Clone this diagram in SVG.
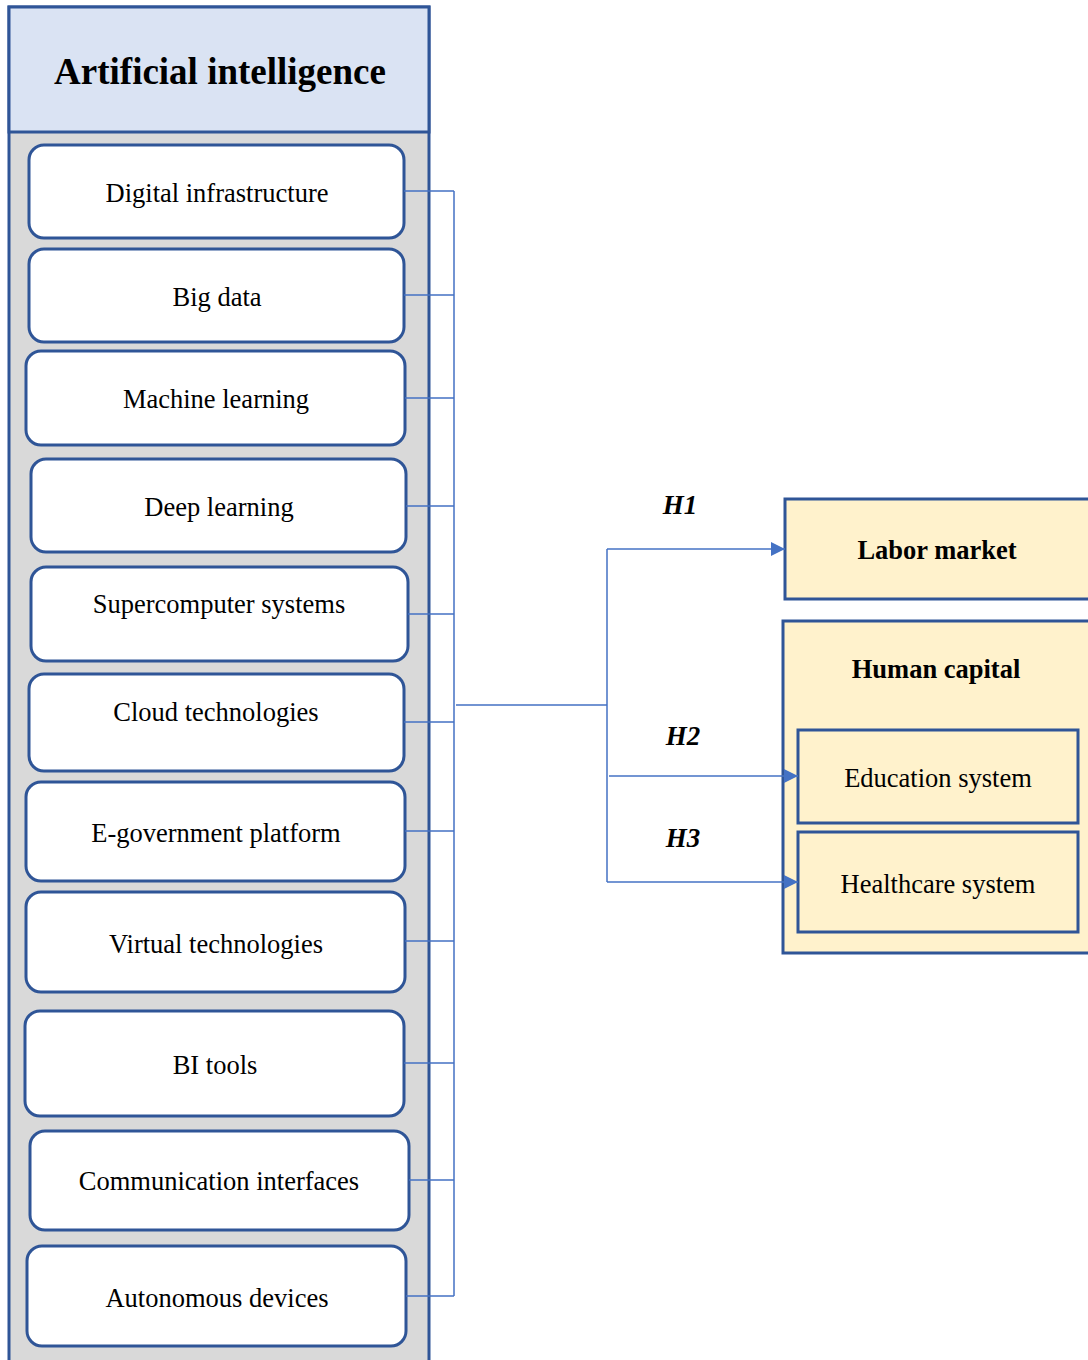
<svg xmlns="http://www.w3.org/2000/svg" width="1088" height="1360" viewBox="0 0 1088 1360">
<defs>
<style>
.box{fill:#fff;stroke:#2F5597;stroke-width:3}
.t{font-family:"Liberation Serif","Times New Roman",serif;font-size:26.5px;fill:#000;text-anchor:middle;dominant-baseline:central}
.b{font-weight:bold}
.h{font-family:"Liberation Serif","Times New Roman",serif;font-size:27px;font-weight:bold;font-style:italic;text-anchor:middle;dominant-baseline:central}
.c{fill:none;stroke:#4472C4;stroke-width:1.5}
.y{fill:#FFF2CC;stroke:#2F5597;stroke-width:3}
</style>
<marker id="ar" viewBox="0 0 14 14" refX="14" refY="7" markerWidth="14" markerHeight="14" markerUnits="userSpaceOnUse" orient="auto">
<path d="M0,0 L14,7 L0,14 z" fill="#4472C4"/>
</marker>
</defs>
<rect width="1088" height="1360" fill="#fff"/>
<g id="ai">
<rect x="9" y="7" width="420" height="1370" fill="#D9D9D9" stroke="#2F5597" stroke-width="3"/>
<rect x="9" y="7" width="420" height="125" fill="#DAE3F3" stroke="#2F5597" stroke-width="3"/>
<text class="t b" x="220" y="71" style="font-size:37px">Artificial intelligence</text>
</g>
<g id="n1"><rect class="box" x="29" y="145" width="375" height="93" rx="15"/><text class="t" x="217" y="193">Digital infrastructure</text></g>
<g id="n2"><rect class="box" x="29" y="249" width="375" height="93" rx="15"/><text class="t" x="217" y="297">Big data</text></g>
<g id="n3"><rect class="box" x="26" y="351" width="379" height="94" rx="15"/><text class="t" x="216" y="399">Machine learning</text></g>
<g id="n4"><rect class="box" x="31" y="459" width="375" height="93" rx="15"/><text class="t" x="219" y="507">Deep learning</text></g>
<g id="n5"><rect class="box" x="31" y="567" width="377" height="94" rx="15"/><text class="t" x="219" y="604">Supercomputer systems</text></g>
<g id="n6"><rect class="box" x="29" y="674" width="375" height="97" rx="15"/><text class="t" x="216" y="712">Cloud technologies</text></g>
<g id="n7"><rect class="box" x="26" y="782" width="379" height="99" rx="15"/><text class="t" x="216" y="833">E-government platform</text></g>
<g id="n8"><rect class="box" x="26" y="892" width="379" height="100" rx="15"/><text class="t" x="216" y="944">Virtual technologies</text></g>
<g id="n9"><rect class="box" x="25" y="1011" width="379" height="105" rx="15"/><text class="t" x="215" y="1065">BI tools</text></g>
<g id="n10"><rect class="box" x="30" y="1131" width="379" height="99" rx="15"/><text class="t" x="219" y="1181">Communication interfaces</text></g>
<g id="n11"><rect class="box" x="27" y="1246" width="379" height="100" rx="15"/><text class="t" x="217" y="1298">Autonomous devices</text></g>
<g id="labor"><rect class="y" x="785" y="499" width="310" height="100"/><text class="t b" x="937" y="550">Labor market</text></g>
<g id="human">
<rect class="y" x="783" y="621" width="312" height="332"/>
<text class="t b" x="936" y="669">Human capital</text>
</g>
<g id="edu"><rect class="y" x="798" y="730" width="280" height="93"/><text class="t" x="938" y="778">Education system</text></g>
<g id="health"><rect class="y" x="798" y="832" width="280" height="100"/><text class="t" x="938" y="884">Healthcare system</text></g>
<g id="connectors">
<path class="c" d="M404,191 H454 M404,295 H454 M405,398 H454 M406,506 H454 M408,614 H454 M404,722 H454 M405,831 H454 M405,941 H454 M404,1063 H454 M409,1180 H454 M406,1296 H454 M454,191 V1296"/>
<path class="c" d="M456,705 H607 M607,549 V882"/>
<path class="c" d="M607,549 H785" marker-end="url(#ar)"/>
<path class="c" d="M609,776 H798" marker-end="url(#ar)"/>
<path class="c" d="M607,882 H798" marker-end="url(#ar)"/>
</g>
<g id="labels">
<text class="h" x="680" y="505">H1</text>
<text class="h" x="683" y="736">H2</text>
<text class="h" x="683" y="838">H3</text>
</g>
</svg>
